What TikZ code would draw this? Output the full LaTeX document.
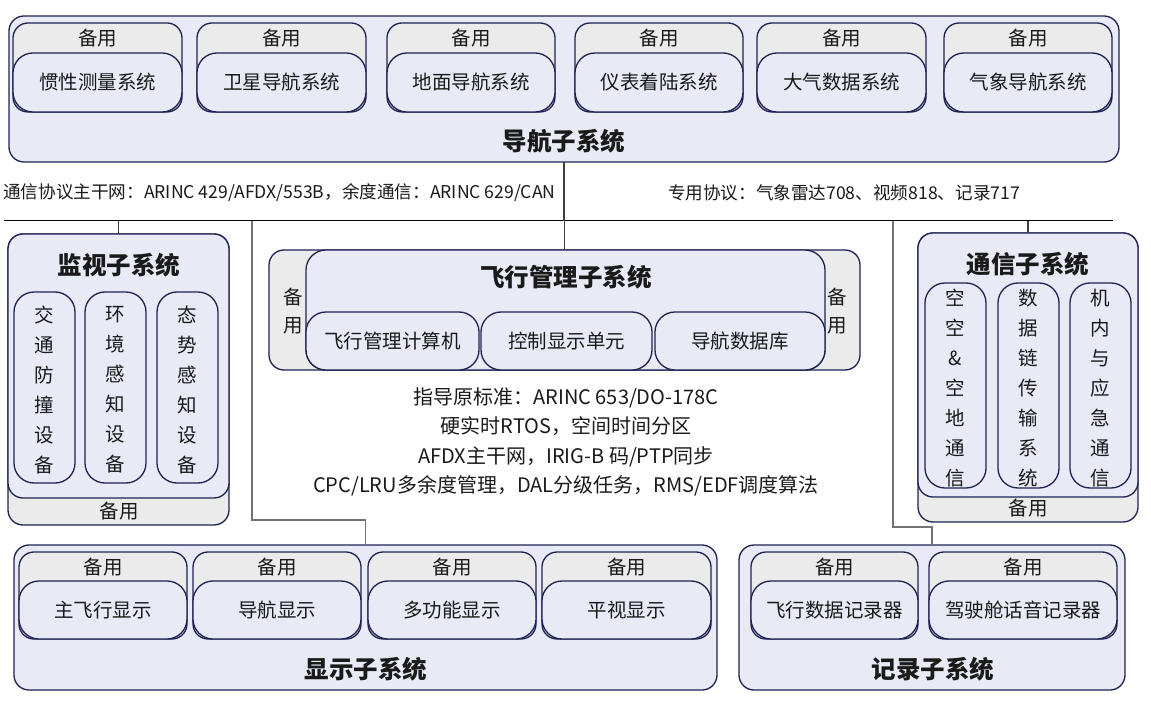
\documentclass[tikz,border=0pt]{standalone}
\usepackage{fontspec}
\setmainfont{Noto Sans CJK SC}
\usetikzlibrary{calc}
\definecolor{lav}{HTML}{E8EAF6}
\definecolor{gry}{HTML}{EBEBEB}
\definecolor{edge}{HTML}{1E2352}
\definecolor{txt}{HTML}{1A1A1A}
\newcommand{\bx}[7]{\node[#2, minimum width={(#5-#3)*1pt}, minimum height={(#6-#4)*1pt}] (#1) at ({(#3+#5)/2},{(#4+#6)/2}) {#7};}
\tikzset{
  box/.style={draw=edge, line width=1.3pt, rounded corners=15pt, inner sep=0pt, outer sep=0pt, text=txt},
  lavbox/.style={box, fill=lav},
  grybox/.style={box, fill=gry},
  frontbox/.style={box, fill=lav, rounded corners=20pt},
  lbl/.style={text=txt, inner sep=0pt, font=\fontsize{19.5}{22}\selectfont},
  ttl/.style={text=txt, inner sep=0pt, font=\bfseries\fontsize{24.5}{28}\selectfont},
  note/.style={text=txt, inner sep=0pt, align=center, font=\fontsize{20}{29.5}\selectfont},
  buslbl/.style={text=txt, inner sep=0pt, font=\fontsize{17.6}{20}\selectfont},
  vtext/.style={text=txt, inner sep=0pt, align=center, font=\fontsize{19.5}{30}\selectfont},
  busline/.style={draw=black, line width=1pt},
  conn/.style={draw=black!75, line width=1.2pt},
  conng/.style={draw=black!55, line width=1.3pt},
}
\begin{document}
\begin{tikzpicture}[x=1pt,y=-1pt]
\useasboundingbox (0,0) rectangle (1151,708);
\fill[white] (0,0) rectangle (1151,708);
% ---------- navigation subsystem ----------
\bx{nav}{lavbox}{9}{16}{1119}{162}{}
\node[ttl] (navt) at (564,141) {导航子系统};
\foreach \i/\a/\b/\t in {1/13/182/惯性测量系统,2/197/366/卫星导航系统,3/387/555/地面导航系统,4/575/743/仪表着陆系统,5/757/926/大气数据系统,6/944/1112/气象导航系统}{
  \bx{ng\i}{grybox}{\a}{23}{\b}{112}{}
  \node[lbl] (ngl\i) at ({(\a+\b)/2},38) {备用};
  \bx{nf\i}{frontbox}{\a}{53}{\b}{112}{}
  \node[lbl] (nfl\i) at ({(\a+\b)/2},82) {\t};
}
% ---------- bus ----------
\node[buslbl, anchor=west] (bus1) at (3,193) {通信协议主干网：ARINC 429/AFDX/553B，余度通信：ARINC 629/CAN};
\node[buslbl] (bus2) at (844,193) {专用协议：气象雷达708、视频818、记录717};
\coordinate (bL) at (4,221);
\coordinate (bR) at (1113,221);
\coordinate (dtap) at (252,221);
\coordinate (rtap) at (893,221);
% ---------- monitor subsystem ----------
\bx{mon}{grybox}{8}{234}{229}{525}{}
\node[lbl] (monb) at (119,511) {备用};
\bx{monf}{lavbox}{8}{234}{229}{498}{}
\node[ttl] (mont) at (119,265) {监视子系统};
\foreach \i/\a/\b/\t in {1/14/75/{交\\通\\防\\撞\\设\\备},2/85/146/{环\\境\\感\\知\\设\\备},3/157/218/{态\\势\\感\\知\\设\\备}}{
  \bx{mc\i}{frontbox}{\a}{292}{\b}{483}{}
  \node[vtext] (mct\i) at ({(\a+\b)/2},390) {\t};
}
% ---------- communication subsystem ----------
\bx{com}{grybox}{918}{233}{1138}{522}{}
\node[lbl] (comb) at (1028,508) {备用};
\bx{comf}{lavbox}{918}{233}{1138}{497}{}
\node[ttl] (comt) at (1028,264) {通信子系统};
\foreach \i/\a/\b/\t in {1/925/986/{空\\空\\\&\\空\\地\\通\\信},2/998/1059/{数\\据\\链\\传\\输\\系\\统},3/1070/1131/{机\\内\\与\\应\\急\\通\\信}}{
  \bx{cc\i}{frontbox}{\a}{283}{\b}{488}{}
  \node[vtext] (cct\i) at ({(\a+\b)/2},388) {\t};
}
% ---------- flight management subsystem ----------
\bx{fms}{grybox}{269}{250}{860}{370}{}
\node[vtext, font=\fontsize{19.5}{28}\selectfont] (fmsl) at (293,311) {备\\用};
\node[vtext, font=\fontsize{19.5}{28}\selectfont] (fmsr) at (837,311) {备\\用};
\bx{fmsf}{frontbox}{306}{250}{825}{370}{}
\node[ttl] (fmst) at (566,277) {飞行管理子系统};
\foreach \i/\a/\b/\t in {1/306/479/飞行管理计算机,2/481/652/控制显示单元,3/655/825/导航数据库}{
  \bx{fi\i}{frontbox}{\a}{312}{\b}{370}{}
  \node[lbl] (fit\i) at ({(\a+\b)/2},341) {\t};
}
\node[note] (notes) at (566,442) {指导原标准：ARINC 653/DO-178C\\硬实时RTOS，空间时间分区\\AFDX主干网，IRIG-B 码/PTP同步\\CPC/LRU多余度管理，DAL分级任务，RMS/EDF调度算法};
% ---------- display subsystem ----------
\bx{disp}{lavbox}{14}{545}{717}{690}{}
\node[ttl] (dispt) at (366,669) {显示子系统};
\foreach \i/\a/\b/\t in {1/19/187/主飞行显示,2/193/361/导航显示,3/368/536/多功能显示,4/542/711/平视显示}{
  \bx{dg\i}{grybox}{\a}{552}{\b}{639}{}
  \node[lbl] (dgl\i) at ({(\a+\b)/2},567) {备用};
  \bx{df\i}{frontbox}{\a}{581}{\b}{639}{}
  \node[lbl] (dfl\i) at ({(\a+\b)/2},610) {\t};
}
% ---------- recording subsystem ----------
\bx{rec}{lavbox}{739}{545}{1125}{690}{}
\node[ttl] (rect) at (933,669) {记录子系统};
\foreach \i/\a/\b/\t in {1/751/918/飞行数据记录器,2/929/1117/驾驶舱话音记录器}{
  \bx{rg\i}{grybox}{\a}{552}{\b}{639}{}
  \node[lbl] (rgl\i) at ({(\a+\b)/2},567) {备用};
  \bx{rf\i}{frontbox}{\a}{581}{\b}{639}{}
  \node[lbl] (rfl\i) at ({(\a+\b)/2},610) {\t};
}
% ---------- connectors ----------
\draw[busline] (bL) -- (bR);
\draw[conn] (nav.south) -- (nav.south |- bL);
\draw[conn] (mon.north) -- (mon.north |- bL);
\draw[conn] (fms.north) -- (fms.north |- bL);
\draw[conn] (com.north) -- (com.north |- bL);
\draw[conng] (dtap) -- ++(0,299) -| (disp.north);
\draw[conng] (rtap) -- ++(0,306) -| (rec.north);
\end{tikzpicture}
\end{document}
